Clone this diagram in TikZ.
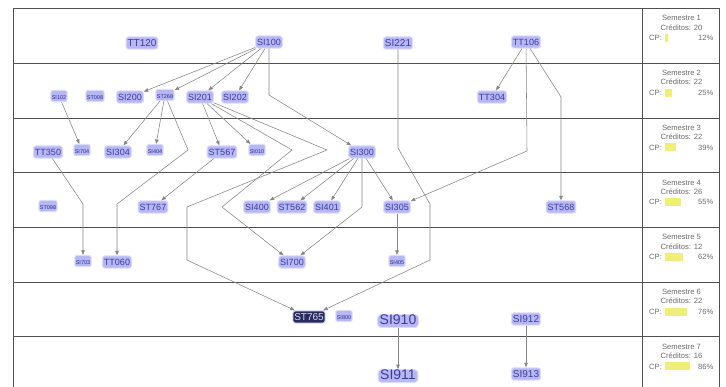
\documentclass[tikz,border=0pt]{standalone}
\usepackage{fontspec}
\setmainfont{Liberation Sans}
\usetikzlibrary{arrows.meta}
\definecolor{nfill}{HTML}{B7B7F4}
\definecolor{nhalo}{HTML}{DCDCFB}
\definecolor{ntext}{HTML}{3C3CA0}
\definecolor{stext}{HTML}{2E2E8C}
\definecolor{dfill}{HTML}{2A2A5C}
\definecolor{dtext}{HTML}{D8D8F5}
\definecolor{edgec}{HTML}{858585}
\definecolor{gridc}{HTML}{505050}
\definecolor{ptext}{HTML}{6A6A6A}
\definecolor{barc}{HTML}{EEEE78}
\tikzset{
 crs/.style={rounded corners=2.5pt, fill=nfill, draw=nhalo, line width=1pt, text=ntext,
   inner xsep=1.5pt, inner ysep=1.8pt, text height=0.75em, text depth=0.12em,
   font=\fontsize{9}{9}\selectfont},
 crsm/.style={crs, text=stext, font=\fontsize{5.5}{5.5}\selectfont, inner xsep=1pt, inner ysep=1.2pt, rounded corners=2pt},
 crsmd/.style={crs, font=\fontsize{10}{10}\selectfont},
 crslg/.style={crs, font=\fontsize{14}{14}\selectfont, inner xsep=2pt, inner ysep=2pt, rounded corners=3pt},
 crsdark/.style={crsmd, fill=dfill, text=dtext},
 conn/.style={draw=edgec, line width=0.55pt, -{Triangle[length=4.5pt,width=3.5pt]}},
 gridln/.style={draw=gridc, line width=0.7pt},
 ptxt/.style={text=ptext, font=\fontsize{7.6}{7.6}\selectfont, inner sep=0pt},
}
\begin{document}
\begin{tikzpicture}[x=1pt,y=-1pt]
\useasboundingbox (0,0) rectangle (726,387);
% grid
\draw[gridln] (13,387) -- (13,8) -- (719,8) -- (719,387);
\draw[gridln] (642,8) -- (642,387);
\foreach \y in {63,118,172.5,227,282,336.5} \draw[gridln] (13,\y) -- (719,\y);
% semester panel
\foreach \i/\c/\p in {1/20/12,2/22/25,3/22/39,4/26/55,5/12/62,6/22/76,7/16/86} {
  \pgfmathsetmacro\yt{8+(\i-1)*54.75}
  \node[ptxt] (semA\i) at (681.5,\yt+10.3) {Semestre \i};
  \node[ptxt] (semB\i) at (681.5,\yt+19.3) {Créditos: \c};
  \node[ptxt, anchor=west] (semC\i) at (649,\yt+30) {CP:};
  \fill[barc] (665,\yt+26) rectangle ++({0.29*\p},8);
  \node[ptxt, anchor=east] (semD\i) at (713.5,\yt+30) {\p\%};
}
% nodes
\node[crsmd] (TT120) at (142,43) {TT120};
\node[crs] (SI100) at (269,42) {SI100};
\node[crsmd] (SI221) at (398,43) {SI221};
\node[crs] (TT106) at (526,42) {TT106};
\node[crsm] (SI102) at (59,96) {SI102};
\node[crsm] (ST008) at (95,96) {ST008};
\node[crs] (SI200) at (130,97) {SI200};
\node[crsm] (ST268) at (165,95) {ST268};
\node[crs] (SI201) at (200,97) {SI201};
\node[crs] (SI202) at (235,97) {SI202};
\node[crs] (TT304) at (492,97) {TT304};
\node[crs] (TT350) at (48,152) {TT350};
\node[crsm] (SI704) at (82,150) {SI704};
\node[crs] (SI304) at (118,152) {SI304};
\node[crsm] (SI404) at (155,150) {SI404};
\node[crs] (ST567) at (222,152) {ST567};
\node[crsm] (SI010) at (257,150) {SI010};
\node[crs] (SI300) at (362,152) {SI300};
\node[crsm] (ST098) at (48,206) {ST098};
\node[crs] (ST767) at (153,207) {ST767};
\node[crs] (SI400) at (257,207) {SI400};
\node[crs] (ST562) at (292,207) {ST562};
\node[crs] (SI401) at (327,207) {SI401};
\node[crs] (SI305) at (397,207) {SI305};
\node[crs] (ST568) at (561,207) {ST568};
\node[crsm] (SI703) at (83,261) {SI703};
\node[crs] (TT060) at (117,262) {TT060};
\node[crs] (SI700) at (292,262) {SI700};
\node[crsm] (SI405) at (397,261) {SI405};
\node[crsdark] (ST765) at (309,317) {ST765};
\node[crsm] (SI800) at (344,316) {SI800};
\node[crslg] (SI910) at (398,321) {SI910};
\node[crsmd] (SI912) at (526,319) {SI912};
\node[crslg] (SI911) at (398,376) {SI911};
\node[crsmd] (SI913) at (526,374) {SI913};
% bend points
\coordinate (b1) at (269,95);
\coordinate (b2a) at (398,148);
\coordinate (b2b) at (430,204);
\coordinate (b2c) at (430,260);
\coordinate (b3) at (527,151);
\coordinate (b4) at (561,97);
\coordinate (b5a) at (188,150);
\coordinate (b5b) at (117,204);
\coordinate (b6) at (83,204);
\coordinate (b7a) at (292,150);
\coordinate (b7b) at (222,207);
\coordinate (b8a) at (327,150);
\coordinate (b8b) at (187,207);
\coordinate (b8c) at (187,260);
\coordinate (b9) at (362,207);
% connectors
\draw[conn] (SI100) -- (SI200);
\draw[conn] (SI100) -- (ST268);
\draw[conn] (SI100) -- (SI201);
\draw[conn] (SI100) -- (SI202);
\draw[conn] (SI100) -- (b1) -- (SI300);
\draw[conn] (SI221) -- (b2a) -- (b2b) -- (b2c) -- (ST765);
\draw[conn] (TT106) -- (TT304);
\draw[conn] (TT106) -- (b3) -- (SI305);
\draw[conn] (TT106) -- (b4) -- (ST568);
\draw[conn] (SI102) -- (SI704);
\draw[conn] (ST268) -- (SI304);
\draw[conn] (ST268) -- (SI404);
\draw[conn] (ST268) -- (b5a) -- (b5b) -- (TT060);
\draw[conn] (TT350) -- (b6) -- (SI703);
\draw[conn] (SI201) -- (ST567);
\draw[conn] (SI201) -- (SI010);
\draw[conn] (SI201) -- (b7a) -- (b7b) -- (SI700);
\draw[conn] (SI201) -- (b8a) -- (b8b) -- (b8c) -- (ST765);
\draw[conn] (ST567) -- (ST767);
\draw[conn] (SI300) -- (SI400);
\draw[conn] (SI300) -- (ST562);
\draw[conn] (SI300) -- (SI401);
\draw[conn] (SI300) -- (SI305);
\draw[conn] (SI300) -- (b9) -- (SI700);
\draw[conn] (SI305) -- (SI405);
\draw[conn] (SI910) -- (SI911);
\draw[conn] (SI912) -- (SI913);
\end{tikzpicture}
\end{document}
